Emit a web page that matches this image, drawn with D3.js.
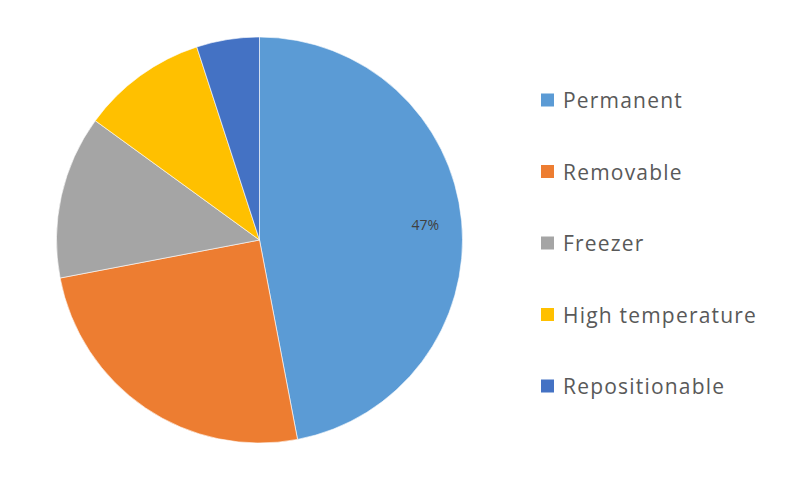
<!DOCTYPE html>
<html>
<head>
<meta charset="utf-8">
<script src="https://cdn.jsdelivr.net/npm/d3@7"></script>
<style>
html,body{margin:0;padding:0;background:#fff;}
svg{display:block;}
</style>
</head>
<body>
<svg id="chart" width="800" height="481"></svg>
<script>
const categories = ["Permanent", "Removable", "Freezer", "High temperature", "Repositionable"];
const values = [47, 25, 13, 10, 5];
const colors = ["#5B9BD5", "#ED7D31", "#A5A5A5", "#FFC000", "#4472C4"];
const shownLabels = ["47%", "", "", "", ""];

const svg = d3.select("#chart");
const cx = 259.5, cy = 240, R = 203;

const data = categories.map((c, i) => ({ name: c, value: values[i], color: colors[i], label: shownLabels[i] }));
const pie = d3.pie().value(d => d.value).sort(null);
const arc = d3.arc().innerRadius(0).outerRadius(R);
const labelArc = d3.arc().innerRadius(R * 0.82).outerRadius(R * 0.82);

const g = svg.append("g").attr("transform", `translate(${cx},${cy})`);
const arcs = pie(data);
g.selectAll("path").data(arcs).enter().append("path")
  .attr("d", arc)
  .attr("fill", d => d.data.color)
  .attr("stroke", "#ffffff")
  .attr("stroke-width", 1)
  .attr("stroke-opacity", 0.6);

g.selectAll("text.lbl").data(arcs.filter(d => d.data.label)).enter().append("text")
  .attr("class", "lbl")
  .attr("transform", d => `translate(${labelArc.centroid(d)})`)
  .attr("text-anchor", "middle")
  .attr("dominant-baseline", "central")
  .attr("font-family", "'Open Sans', 'Noto Sans', sans-serif")
  .attr("font-size", 14)
  .attr("fill", "#404040")
  .text(d => d.data.label);

const legendY = d3.scalePoint().domain(categories).range([100, 386]);
const lg = svg.append("g");
const items = lg.selectAll("g").data(data).enter().append("g")
  .attr("transform", d => `translate(541,${legendY(d.name)})`);
items.append("rect").attr("x", 0).attr("y", -6.5).attr("width", 13).attr("height", 13).attr("fill", d => d.color);
items.append("text").attr("x", 22).attr("y", 0)
  .attr("dominant-baseline", "central")
  .attr("font-family", "'Open Sans', 'Noto Sans', sans-serif")
  .attr("font-size", 21)
  .attr("letter-spacing", 1.2)
  .attr("fill", "#595959")
  .text(d => d.name);
</script>
</body>
</html>
